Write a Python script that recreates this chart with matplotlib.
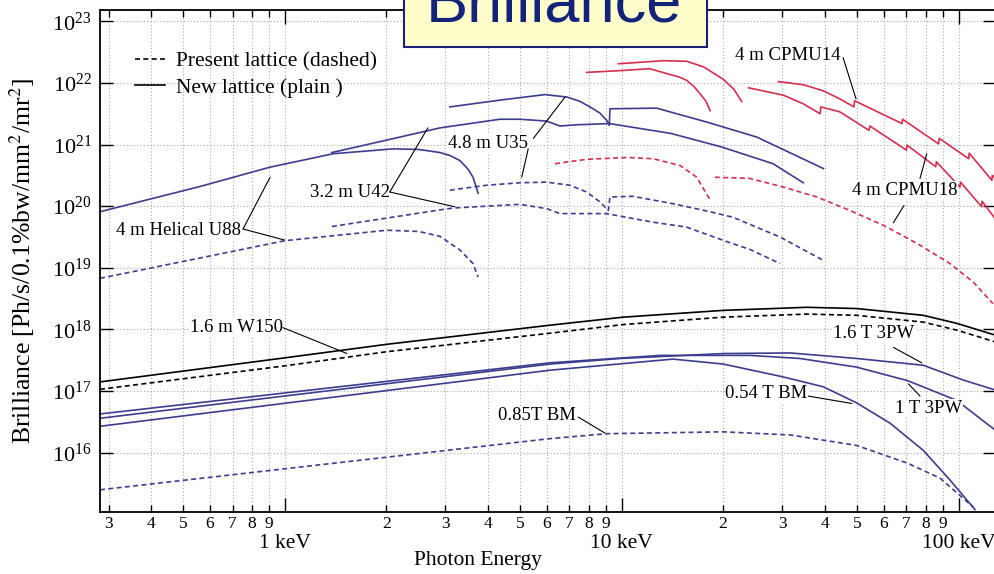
import numpy as np
import matplotlib
matplotlib.use("Agg")
import matplotlib.pyplot as plt
from matplotlib.ticker import FixedLocator, FixedFormatter, FuncFormatter, LogLocator, NullLocator
from matplotlib.lines import Line2D
from matplotlib.patches import Rectangle

plt.rcParams['font.family'] = ['Liberation Serif', 'DejaVu Serif']
plt.rcParams['mathtext.fontset'] = 'stix'

BLUE = '#3d3d8f'
RED = '#d32f4f'
DASH = (0, (3, 2))

# photon energy [keV] and log10(brilliance)
u88_new_e = [0.283, 0.561, 0.90, 1.39, 2.10, 2.50, 2.89, 3.10, 3.31, 3.50, 3.62, 3.75]
u88_new_lb = [19.91, 20.32, 20.63, 20.85, 20.93, 20.92, 20.87, 20.82, 20.74, 20.60, 20.47, 20.21]
u88_old_e = [0.283, 0.561, 1.0, 2.01, 2.50, 2.89, 3.31, 3.62, 3.75]
u88_old_lb = [18.83, 19.16, 19.44, 19.61, 19.59, 19.51, 19.29, 19.07, 18.85]

u42_new_e = [1.38, 2.0, 2.89, 4.35, 4.99, 5.99, 6.56, 7.35, 9.2, 14.0, 19.8, 28.1, 34.6]
u42_new_lb = [20.87, 21.07, 21.27, 21.41, 21.41, 21.38, 21.30, 21.32, 21.34, 21.18, 20.96, 20.69, 20.38]
u42_old_e = [1.38, 2.89, 3.16, 4.99, 5.99, 6.56, 9.0, 12.4, 15.6, 17.1, 21.4, 24.0, 29.5]
u42_old_lb = [19.67, 19.94, 19.97, 20.03, 19.96, 19.88, 19.88, 19.74, 19.66, 19.58, 19.39, 19.30, 19.07]

u35_new_e = [3.09, 4.35, 5.92, 6.88, 7.52, 8.05, 8.62, 9.03, 9.19, 9.23, 12.7, 18.0, 25.2, 39.7]
u35_new_lb = [21.61, 21.72, 21.81, 21.77, 21.70, 21.61, 21.51, 21.39, 21.31, 21.58, 21.59, 21.36, 21.12, 20.61]
u35_old_e = [3.09, 3.98, 4.99, 5.99, 7.02, 7.87, 8.62, 9.13, 9.23, 10.8, 14.2, 18.3, 21.4, 29.5, 39.7]
u35_old_lb = [20.26, 20.34, 20.38, 20.39, 20.34, 20.23, 20.07, 19.93, 20.15, 20.16, 20.04, 19.91, 19.82, 19.50, 19.12]

cpmu18_h1_e = [7.87, 10.0, 12.1, 14.9, 15.6, 16.4, 17.1, 17.8, 18.3]
cpmu18_h1_lb = [22.17, 22.20, 22.23, 22.09, 22.04, 21.94, 21.82, 21.70, 21.55]
cpmu14_h1_e = [9.77, 13.3, 15.6, 17.5, 20.0, 21.5, 22.7]
cpmu14_h1_lb = [22.31, 22.36, 22.35, 22.26, 22.06, 21.90, 21.70]

cpmu14_hn_e = [29.2, 34.6, 39.7, 44.4, 48.9, 49.1, 67.9, 68.2, 87.2, 87.6,
               107.1, 107.5, 125.5, 125.8, 128.2]
cpmu14_hn_lb = [22.02, 21.97, 21.87, 21.74, 21.61, 21.71, 21.34, 21.41, 21.01, 21.10,
                20.77, 20.86, 20.42, 20.50, 20.46]
cpmu18_hn_e = [23.8, 30.2, 34.6, 38.8, 39.0, 44.4, 54.2, 54.5, 70.0, 70.3,
               85.5, 85.9, 100.9, 101.3, 117.0, 117.4, 128.2]
cpmu18_hn_lb = [21.92, 21.80, 21.66, 21.50, 21.61, 21.53, 21.23, 21.30, 20.91, 20.99,
                20.64, 20.72, 20.31, 20.39, 19.99, 20.08, 19.80]

cpmu_old_h1_e = [6.34, 7.87, 10.35, 12.4, 14.9, 16.7, 18.3]
cpmu_old_h1_lb = [20.69, 20.76, 20.79, 20.77, 20.66, 20.47, 20.10]
cpmu_old_hn_e = [18.9, 24.0, 30.2, 37.9, 47.6, 59.8, 75.6, 94.2, 110.5, 126.4]
cpmu_old_hn_lb = [20.47, 20.45, 20.31, 20.15, 19.93, 19.69, 19.39, 19.07, 18.77, 18.42]

w150_e = [0.283, 1.0, 2.01, 6.13, 10.1, 20.0, 35.4, 49.8, 78.5, 98.7, 128.2]
w150_new_lb = [17.15, 17.54, 17.76, 18.07, 18.20, 18.31, 18.36, 18.34, 18.23, 18.10, 17.91]
w150_old_lb = [17.03, 17.41, 17.64, 17.94, 18.08, 18.20, 18.25, 18.23, 18.12, 17.99, 17.80]

pw1_e = [0.283, 6.13, 13.0, 24.0, 33.8, 49.8, 70.6, 98.7, 128.2]
pw1_lb = [16.63, 17.46, 17.58, 17.58, 17.53, 17.39, 17.17, 16.85, 16.37]
pw16_e = [0.283, 6.13, 9.9, 20.0, 31.6, 49.8, 78.5, 103.2, 128.2]
pw16_lb = [16.56, 17.44, 17.53, 17.61, 17.62, 17.53, 17.42, 17.18, 17.02]
bm054_e = [0.283, 6.13, 14.2, 20.0, 30.2, 39.7, 49.8, 62.6, 78.5, 94.2, 111.8]
bm054_lb = [16.43, 17.34, 17.52, 17.44, 17.23, 17.07, 16.81, 16.48, 16.04, 15.56, 15.08]
bm085_e = [0.283, 6.13, 9.03, 20.0, 31.6, 49.8, 70.6, 88.0, 110.5]
bm085_lb = [15.40, 16.23, 16.31, 16.34, 16.29, 16.12, 15.83, 15.59, 15.12]

curves = [
    (u88_new_e, u88_new_lb, BLUE, '-'), (u88_old_e, u88_old_lb, BLUE, DASH),
    (u42_new_e, u42_new_lb, BLUE, '-'), (u42_old_e, u42_old_lb, BLUE, DASH),
    (u35_new_e, u35_new_lb, BLUE, '-'), (u35_old_e, u35_old_lb, BLUE, DASH),
    (cpmu18_h1_e, cpmu18_h1_lb, RED, '-'), (cpmu14_h1_e, cpmu14_h1_lb, RED, '-'),
    (cpmu14_hn_e, cpmu14_hn_lb, RED, '-'), (cpmu18_hn_e, cpmu18_hn_lb, RED, '-'),
    (cpmu_old_h1_e, cpmu_old_h1_lb, RED, DASH), (cpmu_old_hn_e, cpmu_old_hn_lb, RED, DASH),
    (w150_e, w150_new_lb, 'black', '-'), (w150_e, w150_old_lb, 'black', DASH),
    (pw1_e, pw1_lb, BLUE, '-'), (pw16_e, pw16_lb, BLUE, '-'),
    (bm054_e, bm054_lb, BLUE, '-'), (bm085_e, bm085_lb, BLUE, DASH),
]

# label text, text anchor (E, log10 B), leader lines [(start, end), ...]
labels = [
    ("4 m Helical U88", (0.316, 19.61), [((0.752, 19.63), (0.905, 20.47)), ((0.752, 19.63), (1.0, 19.45))]),
    ("3.2 m U42", (1.189, 20.23), [((2.05, 20.23), (2.66, 21.27)), ((2.05, 20.23), (3.20, 19.99))]),
    ("4.8 m U35", (3.05, 21.01), [((5.47, 21.10), (6.79, 21.77)), ((5.28, 20.93), (5.05, 20.47))]),
    ("4 m CPMU14", (21.7, 22.45), [((45.4, 22.41), (49.6, 21.74))]),
    ("4 m CPMU18", (48.1, 20.26), [((76.8, 20.45), (80.4, 20.85)), ((68.8, 20.01), (64.0, 19.73))]),
    ("1.6 m W150", (0.524, 18.04), [((0.988, 18.03), (1.53, 17.61))]),
    ("1.6 T 3PW", (42.5, 17.94), [((64.0, 17.71), (77.7, 17.46))]),
    ("1 T 3PW", (64.7, 16.72), [((76.8, 16.92), (70.9, 17.12))]),
    ("0.54 T BM", (20.3, 16.96), [((35.8, 16.92), (48.2, 16.80))]),
    ("0.85T BM", (4.30, 16.61), [((7.43, 16.58), (8.92, 16.32))]),
]

fig = plt.figure(figsize=(9.95, 5.74), dpi=100)
ax = fig.add_axes([100 / 995, 62 / 574, 895 / 995, 502.5 / 574])

for e, lb, c, ls in curves:
    ax.plot(e, 10 ** np.array(lb), color=c, ls=ls, lw=1.2)

for txt, (te, tlb), segs in labels:
    ax.text(te, 10 ** tlb, txt, fontsize=13.5, ha='left', va='center', zorder=4,
            bbox=dict(facecolor='white', edgecolor='none', pad=0.5))
    for (e0, lb0), (e1, lb1) in segs:
        ax.annotate('', xy=(e1, 10 ** lb1), xytext=(e0, 10 ** lb0),
                    arrowprops=dict(arrowstyle='-', color='black', lw=0.8,
                                    shrinkA=0, shrinkB=0), zorder=5)

ax.set_xscale('log')
ax.set_yscale('log')
ax.set_xlim(0.283, 128.2)
ax.set_ylim(10 ** 15.04, 10 ** 23.19)

ax.xaxis.set_major_locator(FixedLocator([1, 10, 100]))
ax.xaxis.set_major_formatter(FixedFormatter(['1 keV', '10 keV', '100 keV']))
ax.xaxis.set_minor_locator(LogLocator(base=10, subs=np.arange(2, 10), numticks=20))
ax.xaxis.set_minor_formatter(FuncFormatter(
    lambda v, p: str(int(round(v / 10 ** np.floor(np.log10(v) + 1e-9))))))
ax.yaxis.set_major_locator(FixedLocator([10.0 ** k for k in range(16, 24)]))
ax.yaxis.set_minor_locator(NullLocator())

ax.tick_params(which='both', direction='in', top=True, right=True, width=1.0)
ax.tick_params(axis='x', which='major', length=10, pad=16, labelsize=15.5)
ax.tick_params(axis='x', which='minor', length=5, pad=3, labelsize=12.5)
ax.tick_params(axis='y', which='major', length=9, pad=6, labelsize=16)
for s in ax.spines.values():
    s.set_linewidth(1.3)

ax.set_axisbelow(True)
ax.grid(which='major', color='#a8a8a8', ls=(0, (1, 2)), lw=0.8)
ax.grid(which='minor', axis='x', color='#a8a8a8', ls=(0, (1, 2)), lw=0.8)

ax.set_xlabel('Photon Energy', fontsize=15.5)
ax.xaxis.set_label_coords(0.422, -0.077)
ax.xaxis.label.set_va('top')
ax.set_ylabel('Brilliance [Ph/s/0.1%bw/mm$^2$/mr$^2$]', fontsize=18.5)
ax.yaxis.set_label_coords(-0.070, 0.5)

handles = [Line2D([], [], color='black', lw=1.2, ls=DASH),
           Line2D([], [], color='black', lw=1.2)]
ax.legend(handles, ['Present lattice (dashed)', 'New lattice (plain )'],
          loc='upper left', bbox_to_anchor=(0.039, 0.916), frameon=False,
          fontsize=15.5, handlelength=1.4, handletextpad=0.5, borderpad=0,
          borderaxespad=0, labelspacing=0.28)

# title box clipped at the top of the slide
fig.add_artist(Rectangle((404 / 995, 1 - 46.7 / 574), 302.7 / 995, 0.2,
                         transform=fig.transFigure, facecolor='#FFFFCC',
                         edgecolor='#1b1f78', lw=1.5, zorder=5))
fig.text(426 / 995, 1 - 21.5 / 574, 'Brilliance', fontsize=45.5, color='#14237a',
         family='Liberation Sans', ha='left', va='baseline', zorder=6)

fig.savefig('out.png', dpi=100)
